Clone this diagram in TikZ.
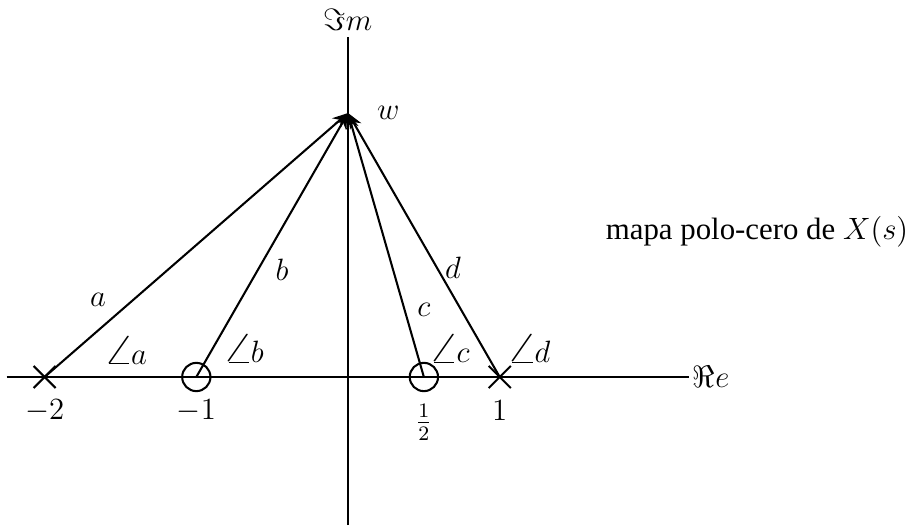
\documentclass[tikz,border=0pt,12pt]{standalone}
\usepackage{fontspec}
\setmainfont{Liberation Serif}
\usepackage{tikz}
\usetikzlibrary{arrows.meta, positioning}
\usetikzlibrary{shapes.misc}
\newcommand{\angulo}{\mathord{\scalebox{1.85}[1.45]{$\angle$}}\mkern-2mu}

\begin{document}
\begin{tikzpicture}[x=2.075cm,y=2.075cm,
    pole/.style={cross out,draw,thick,minimum size=7.8pt,inner sep=0pt},
    zero/.style={circle,draw,thick,minimum size=11pt,inner sep=0pt},
    vec/.style={thick,-{Stealth[length=6pt,width=5pt]}}]
            \useasboundingbox (-2.294,-0.976) rectangle (3.724,2.485);
            % ejes
            \draw[thick] (-2.25,0) -- (2.25,0) node[right,inner sep=1pt](re) {$\Re e$};
            \draw[thick] (0,-0.976) -- (0,2.24) node[above,inner sep=2pt](im) {$\Im m$};
            % polos y ceros
            \node[pole](pa) at (-2,0) {};
            \node[zero](zb) at (-1,0) {};
            \node[zero](zc) at (0.5,0) {};
            \node[pole](pd) at (1,0) {};
            \node(l2) at (-2,-0.22) {$-2$};
            \node(l1) at (-1,-0.22) {$-1$};
            \node(lh) at (0.5,-0.3) {$\frac{1}{2}$};
            \node(lp1) at (1,-0.22) {$1$};
            \coordinate (w) at (0,1.74);
            \node[right=0.12 of w](lw) {$w$};
            % vectores
            \draw[vec] (pa.center) -- (w);
            \draw[vec] (zb.center) -- (w);
            \draw[vec] (zc.center) -- (w);
            \draw[vec] (pd.center) -- (w);
            \node(la) at (-1.648,0.508) {$a$};
            \node(lb) at (-0.435,0.705) {$b$};
            \node(lc) at (0.5,0.44) {$c$};
            \node(ld) at (0.692,0.718) {$d$};
            \node(aa) at (-1.47,0.175) {$\angulo a$};
            \node(ab) at (-0.69,0.185) {$\angulo b$};
            \node(ac) at (0.666,0.185) {$\angulo c$};
            \node(ad) at (1.19,0.185) {$\angulo d$};
            \node(mapa) at (2.696,0.956) {mapa polo-cero de $X(s)$};
        \end{tikzpicture}
\end{document}
